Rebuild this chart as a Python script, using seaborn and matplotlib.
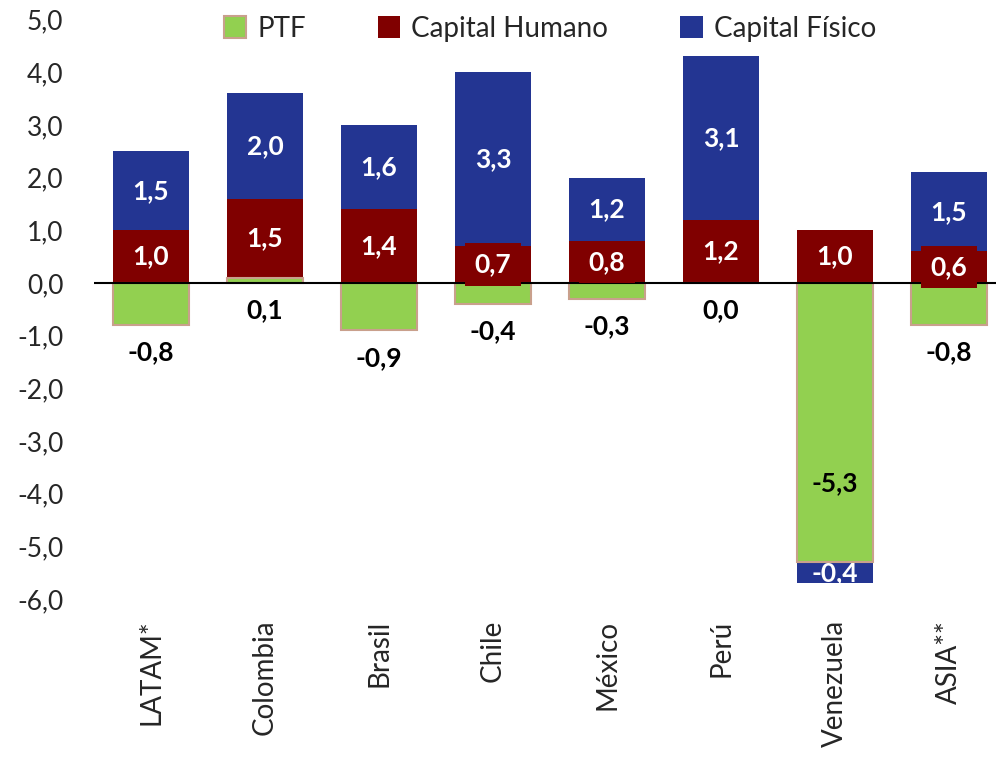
import matplotlib
matplotlib.use("Agg")
import matplotlib.pyplot as plt
import numpy as np
import pandas as pd
import seaborn as sns
from matplotlib.patches import Patch

categories = ["LATAM*", "Colombia", "Brasil", "Chile", "México", "Perú", "Venezuela", "ASIA**"]
ptf = [-0.8, 0.1, -0.9, -0.4, -0.3, 0.0, -5.3, -0.8]
capital_humano = [1.0, 1.5, 1.4, 0.7, 0.8, 1.2, 1.0, 0.6]
capital_fisico = [1.5, 2.0, 1.6, 3.3, 1.2, 3.1, -0.4, 1.5]
y_ticks = list(range(-6, 6))

series_names = ["PTF", "Capital Humano", "Capital Físico"]
colors = {"PTF": "#92D050", "Capital Humano": "#800000", "Capital Físico": "#233592"}
PTF_EDGE = "#C9A08C"

sns.set_style("white")
plt.rcParams["font.family"] = ["Lato", "DejaVu Sans"]


def fmt(v):
    return f"{v:.1f}".replace(".", ",")


def main():
    # Excel-style stacking: positives pile up from zero, negatives pile down
    rows = []
    pos = np.zeros(len(categories))
    neg = np.zeros(len(categories))
    for name, vals in zip(series_names, [ptf, capital_humano, capital_fisico]):
        vals = np.asarray(vals, dtype=float)
        base = np.where(vals >= 0, pos, neg)
        top = base + vals
        pos = np.where(vals >= 0, top, pos)
        neg = np.where(vals < 0, top, neg)
        for c, v, b, t in zip(categories, vals, base, top):
            rows.append(dict(pais=c, serie=name, valor=v, base=b, tope=t))
    df = pd.DataFrame(rows)

    fig = plt.figure(figsize=(9.96, 7.57), dpi=100)
    ax = fig.add_axes([94 / 996, 1 - 599 / 757, (996 - 94) / 996, (599 - 19.5) / 757])

    # draw the outer cumulative extent first, inner series paint over it
    for name in reversed(series_names):
        sub = df[df["serie"] == name]
        is_ptf = name == "PTF"
        sns.barplot(
            data=sub, x="pais", y="tope", order=categories, ax=ax,
            color=colors[name], saturation=1, width=0.675, errorbar=None,
            edgecolor=PTF_EDGE if is_ptf else colors[name],
            linewidth=1.5 if is_ptf else 0,
        )

    ax.axhline(0, color="black", linewidth=1.5, zorder=2)

    for r in df.itertuples():
        i = categories.index(r.pais)
        txt = fmt(r.valor)
        if r.serie == "PTF":
            y = r.tope + 1.5 if r.valor < -2 else min(r.tope, 0) - 0.52
            ax.text(i, y, txt, ha="center", va="center", fontsize=19,
                    fontweight="bold", color="black", zorder=4)
        else:
            y = (r.base + r.tope) / 2
            box = None
            if r.valor > 0:
                box = dict(boxstyle="square,pad=0.35", fc=colors[r.serie], ec="none")
            ax.text(i, y, txt, ha="center", va="center", fontsize=19,
                    fontweight="bold", color="white", zorder=4, bbox=box)

    ax.set_ylim(-6, 5)
    ax.set_xlim(-0.5, (996 - 94) / 114 - 0.5)
    ax.set_yticks(y_ticks)
    ax.set_yticklabels([fmt(t) for t in y_ticks])
    ax.set_xlabel("")
    ax.set_ylabel("")
    ax.tick_params(axis="y", length=0, pad=22, labelsize=19)
    ax.tick_params(axis="x", length=0, pad=15, labelsize=20, labelrotation=90)
    sns.despine(ax=ax, left=True, bottom=True)

    handles = [
        Patch(facecolor=colors["PTF"], edgecolor=PTF_EDGE, linewidth=1.5),
        Patch(facecolor=colors["Capital Humano"], edgecolor="none"),
        Patch(facecolor=colors["Capital Físico"], edgecolor="none"),
    ]
    fig.legend(handles, series_names, loc="center", bbox_to_anchor=(0.552, 0.962),
               ncol=3, frameon=False, fontsize=20, handlelength=0.8,
               handleheight=0.8, handletextpad=0.4, columnspacing=2.6)

    fig.savefig("out.png", dpi=100)
    plt.close(fig)


if __name__ == "__main__":
    main()
